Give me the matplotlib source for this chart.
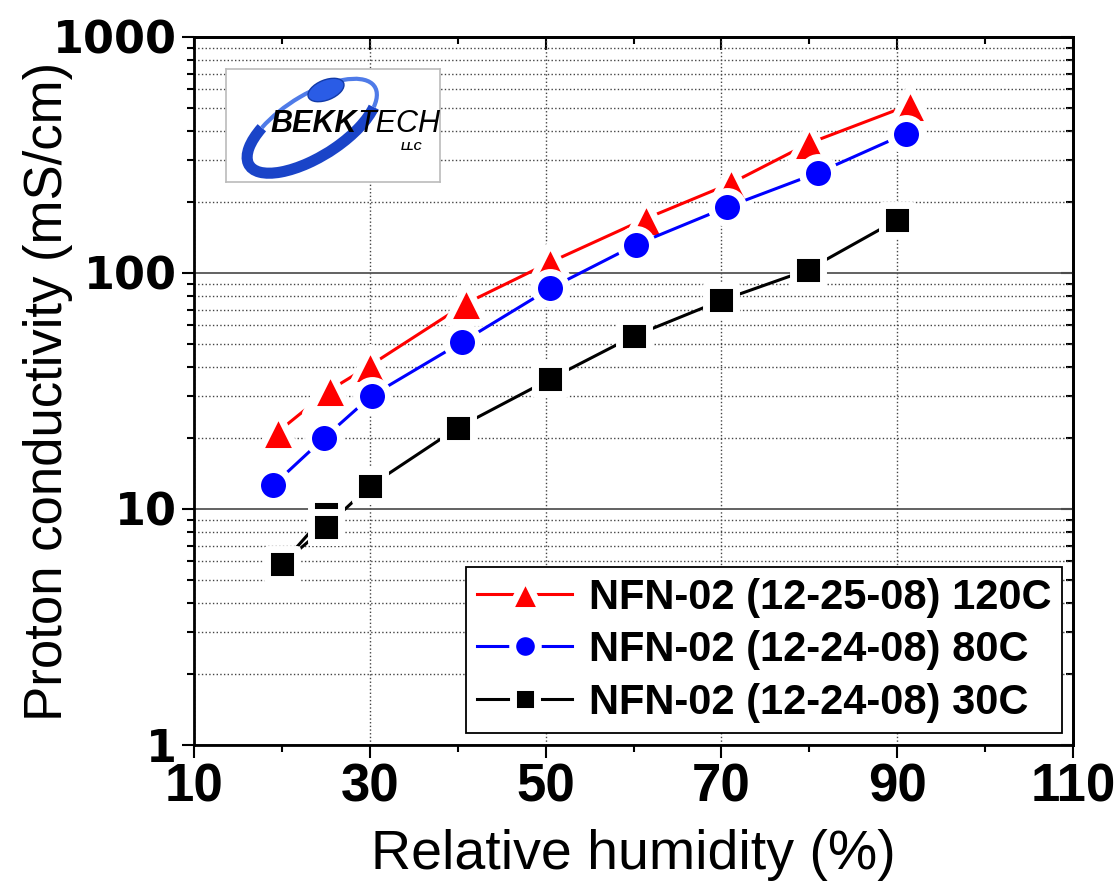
import matplotlib
matplotlib.use("Agg")
import matplotlib.pyplot as plt
from matplotlib.ticker import FixedLocator, LogLocator, NullFormatter, FixedFormatter
from matplotlib.markers import MarkerStyle
from matplotlib.patches import Ellipse, Arc

# data
rh_120 = [19.6, 24.8, 25.5, 30.0, 41.0, 50.5, 61.4, 71.1, 80.0, 91.4]
sigma_120 = [21.3, 30.6, 32.0, 40.5, 74.5, 111, 170, 240, 355, 515]

rh_80 = [19.0, 24.8, 30.2, 40.5, 50.5, 60.3, 70.6, 81.0, 91.0]
sigma_80 = [12.6, 20.0, 30.2, 51, 86, 132, 190, 266, 390]

rh_30 = [25.0, 20.0, 25.0, 30.0, 40.0, 50.5, 60.0, 70.0, 79.8, 90.0]
sigma_30 = [9.5, 5.85, 8.4, 12.5, 22.1, 35.5, 54, 76.5, 103, 168]

labels = ["NFN-02 (12-25-08) 120C", "NFN-02 (12-24-08) 80C", "NFN-02 (12-24-08) 30C"]
x_ticks = [10, 30, 50, 70, 90, 110]
y_ticks = [1, 10, 100, 1000]

fig = plt.figure(figsize=(11.18, 8.89), dpi=100)
ax = fig.add_axes([194 / 1118, 1 - 745 / 889, 879 / 1118, 708 / 889])

series = [
    (rh_120, sigma_120, "red", "^", 28),
    (rh_80, sigma_80, "blue", "o", 23),
    (rh_30, sigma_30, "black", "s", 21),
]
for (x, y, c, m, ms), lab in zip(series, labels):
    ax.plot(x, y, color=c, lw=2.2, marker=MarkerStyle(m, joinstyle="round"),
            ms=ms, mfc=c, mec="white", mew=5, label=lab, zorder=3)

ax.set_yscale("log")
ax.set_xlim(10, 110)
ax.set_ylim(1, 1000)

ax.xaxis.set_major_locator(FixedLocator(x_ticks))
ax.xaxis.set_minor_locator(FixedLocator([20, 40, 60, 80, 100]))
ax.yaxis.set_major_locator(FixedLocator(y_ticks))
ax.yaxis.set_major_formatter(FixedFormatter([str(v) for v in y_ticks]))
ax.yaxis.set_minor_locator(LogLocator(base=10, subs=range(2, 10)))
ax.yaxis.set_minor_formatter(NullFormatter())

# grid: solid decades, dotted minors, dotted verticals
ax.grid(True, axis="y", which="major", color="#555555", lw=1.3, ls="-", zorder=0)
ax.grid(True, axis="y", which="minor", color="#444444", lw=1.0, ls=":", zorder=0)
ax.grid(True, axis="x", which="major", color="#444444", lw=1.0, ls=":", zorder=0)

for s in ax.spines.values():
    s.set_linewidth(2.0)

ax.tick_params(axis="both", which="major", direction="out", length=9, width=1.5)
ax.tick_params(axis="both", which="minor", direction="out", length=5, width=1.5)

for t in ax.get_yticklabels():
    t.set_fontfamily("DejaVu Sans")
    t.set_fontweight("bold")
    t.set_fontsize(32)
for t in ax.get_xticklabels():
    t.set_fontfamily("Liberation Sans")
    t.set_fontweight("bold")
    t.set_fontsize(38)

# mirrored ticks pointing inward on top and right
top = ax.secondary_xaxis("top")
top.xaxis.set_major_locator(FixedLocator(x_ticks))
top.xaxis.set_minor_locator(FixedLocator([20, 40, 60, 80, 100]))
top.tick_params(which="major", direction="in", length=9, width=1.5, labeltop=False)
top.tick_params(which="minor", direction="in", length=5, width=1.5)
top.spines["top"].set_linewidth(2.0)

right = ax.secondary_yaxis("right")
right.set_yscale("log")
right.yaxis.set_major_locator(FixedLocator(y_ticks))
right.yaxis.set_minor_locator(LogLocator(base=10, subs=range(2, 10)))
right.yaxis.set_minor_formatter(NullFormatter())
right.tick_params(which="major", direction="in", length=9, width=1.5, labelright=False)
right.tick_params(which="minor", direction="in", length=5, width=1.5)
right.spines["right"].set_linewidth(2.0)

ax.set_xlabel("Relative humidity (%)", fontsize=40, family="Liberation Sans", labelpad=12)
ax.set_ylabel("Proton conductivity (mS/cm)", fontsize=38, family="Liberation Sans")
ax.yaxis.set_label_coords(-0.138, 0.5)

leg = ax.legend(loc="lower right", bbox_to_anchor=(0.9875, 0.017), borderaxespad=0,
                fancybox=False, edgecolor="black", framealpha=1,
                prop={"family": "Liberation Sans", "weight": "bold", "size": 30},
                handlelength=2.3, handletextpad=0.4, labelspacing=0.3,
                borderpad=0.25, markerscale=0.8)
leg.get_frame().set_linewidth(1.3)

# logo box
lax = fig.add_axes([226 / 1118, 1 - 182 / 889, 214 / 1118, 113 / 889])
lax.set_xlim(0, 214)
lax.set_ylim(0, 113)
lax.set_xticks([])
lax.set_yticks([])
for s in lax.spines.values():
    s.set_color("#bbbbbb")
    s.set_linewidth(1.2)
lax.add_patch(Arc((86, 56), 148, 62, angle=32, theta1=150, theta2=345, ec="#1a44c8", lw=8))
lax.add_patch(Arc((86, 56), 148, 62, angle=32, theta1=345, theta2=150, ec="#4f7be8", lw=3))
lax.add_patch(Ellipse((100, 92), 38, 20, angle=22, fc="#2a5ce6", ec="#123aa8", lw=1))
lax.text(131, 50, "BEKK", ha="right", va="baseline", fontsize=22, fontweight="bold",
         style="italic", family="Liberation Sans", color="black")
lax.text(131, 50, "TECH", ha="left", va="baseline", fontsize=22,
         style="italic", family="Liberation Sans", color="black")
lax.text(186, 32, "LLC", ha="center", va="baseline", fontsize=8, fontweight="bold",
         style="italic", family="Liberation Sans", color="black")

fig.savefig("out.png", dpi=100)
